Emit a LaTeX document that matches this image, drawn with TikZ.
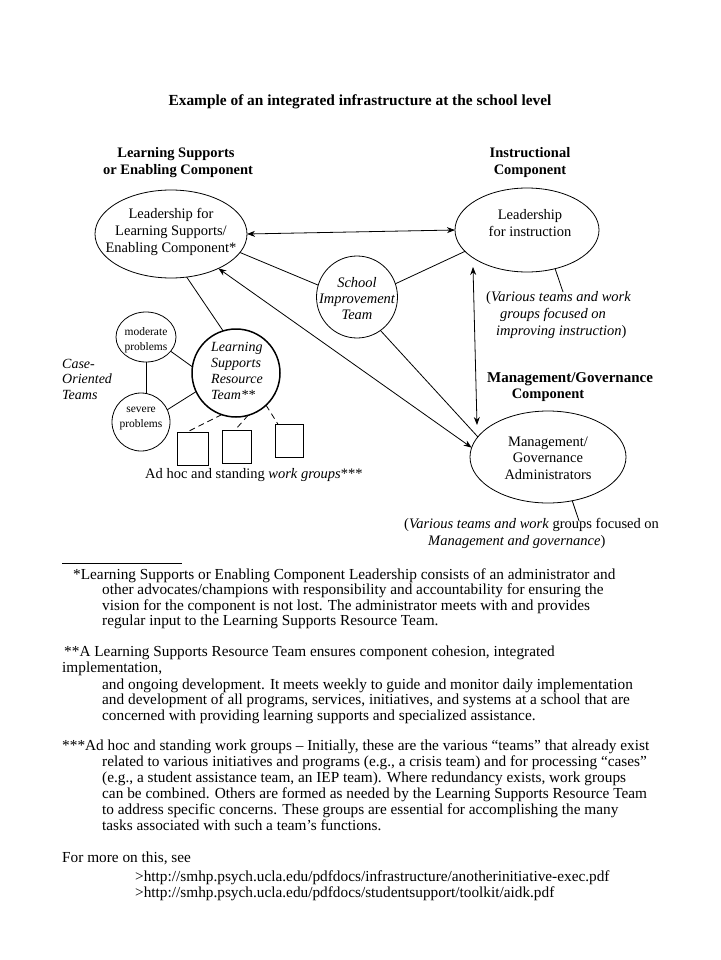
\documentclass[tikz,border=0pt]{standalone}
\usepackage{fontspec}
\setmainfont{Liberation Serif}
\usetikzlibrary{shapes.geometric,arrows.meta}
\begin{document}
\begin{tikzpicture}[x=1pt,y=-1pt,
  ell/.style={draw, ellipse, inner sep=0pt, outer sep=0pt, line width=0.8pt},
  boxn/.style={draw, rectangle, inner sep=0pt, outer sep=0pt, line width=0.8pt},
  lbl/.style={inner sep=0pt, font=\fontsize{14.5}{17}\selectfont, align=center},
  small/.style={inner sep=0pt, font=\fontsize{11.5}{15}\selectfont, align=center},
  hd/.style={inner sep=0pt, anchor=base, font=\fontsize{14.5}{17}\selectfont\bfseries},
  ln/.style={inner sep=0pt, anchor=base west, font=\fontsize{15.3}{16}\selectfont},
  dl/.style={inner sep=0pt, anchor=base west, font=\fontsize{14.5}{16}\selectfont},
  conn/.style={line width=0.8pt},
  tip/.tip={Stealth[length=8pt,width=6pt]},
  arr/.style={conn, tip-tip},
  dsh/.style={conn, dash pattern=on 6pt off 4pt}
]
\useasboundingbox (0,0) rectangle (720,960);

% title and headings
\node[hd, font=\fontsize{15.4}{17}\selectfont\bfseries] (title) at (360,106) {Example of an integrated infrastructure at the school level};
\node[hd] (h1a) at (176,158) {Learning Supports};
\node[hd] (h1b) at (178,175) {or Enabling Component};
\node[hd] (h2a) at (530,158) {Instructional};
\node[hd] (h2b) at (530,175) {Component};
\node[hd, font=\fontsize{15}{17}\selectfont\bfseries] (h3a) at (570,382) {Management/Governance};
\node[hd] (h3b) at (548,398) {Component};

% main ellipses
\node[ell, minimum width=152pt, minimum height=88pt] (L1) at (171,234) {};
\node[lbl] (L1t) at (171,232) {Leadership for\\Learning Supports/\\Enabling Component*};
\node[ell, minimum width=144pt, minimum height=84pt] (I1) at (527,230) {};
\node[lbl] (I1t) at (530,223) {Leadership\\for instruction};
\node[ell, minimum width=156pt, minimum height=92pt] (M1) at (548,457) {};
\node[lbl, font=\fontsize{14.5}{16.5}\selectfont] (M1t) at (548,458) {Management/\\Governance\\Administrators};

% school improvement team
\node[ell, minimum width=81pt, minimum height=82pt] (SIT) at (357,297) {};
\node[lbl, font=\fontsize{14.5}{16}\selectfont\itshape] (SITt) at (357,299) {School\\Improvement\\Team};

% resource team
\node[ell, line width=1.5pt, minimum width=88pt, minimum height=88pt] (RT) at (236,373) {};
\node[lbl, font=\fontsize{14}{16}\selectfont\itshape, align=left, anchor=west] (RTt) at (211,371) {Learning\\Supports\\Resource\\Team**};

% case-oriented teams
\node[ell, minimum width=60pt, minimum height=50pt] (mod) at (146,337) {};
\node[small] (modt) at (146,340) {moderate\\problems};
\node[ell, minimum width=58pt, minimum height=58pt] (sev) at (141,422) {};
\node[small] (sevt) at (141,419) {severe\\problems};
\node[lbl, font=\fontsize{14}{15.5}\selectfont\itshape, align=left, anchor=west] (case) at (62,379) {Case-\\Oriented\\Teams};

% work group boxes
\node[boxn, minimum width=31pt, minimum height=33pt] (b1) at (192.5,448.5) {};
\node[boxn, minimum width=29pt, minimum height=33pt] (b2) at (236.5,446.5) {};
\node[boxn, minimum width=28pt, minimum height=33pt] (b3) at (289,440.5) {};
\node[dl] (wg) at (145,478) {Ad hoc and standing \textit{work groups}***};

% side notes
\node[dl] (v1) at (486,301) {(\textit{Various teams and work}};
\node[dl] (v2) at (500,318) {\textit{groups focused on}};
\node[dl] (v3) at (496,335) {\textit{improving instruction})};
\coordinate (v1c) at (563,292);
\node[dl] (w1) at (404,528) {(\textit{Various teams and work} groups focused on};
\node[dl] (w2) at (428,545) {\textit{Management and governance})};
\coordinate (w1c) at (579,521);

% connectors
\draw[arr] (L1.east) -- (I1.west);
\draw[conn] (L1.-15.5) -- (SIT.163);
\draw[conn] (SIT.19) -- (I1.-161.3);
\draw[conn] (SIT.-55) -- (M1.164.3);
\draw[arr] (L1.-36) -- (M1.173.2);
\coordinate (va1) at (473,267);
\coordinate (va2) at (477,425);
\draw[arr] (va1) -- (va2);
\draw[conn] (I1.-54.3) -- (v1c);
\draw[conn] (M1.-61.4) -- (w1c);
\draw[conn] (L1.-70) -- (RT.107);
\draw[conn] (mod.-30) -- (RT.172);
\draw[conn] (sev.25.8) -- (RT.205);
\draw[conn] (mod.south) -- (mod.south |- sev.north);
\draw[dsh] (RT.251) -- (b1.108);
\draw[dsh] (RT.-74.6) -- (b2.95);
\draw[dsh] (RT.-47.6) -- (b3.124);

% footnotes
\draw[line width=0.8pt] (62,563) -- (182,563);
\node[ln] (f1) at (73,579) {*Learning Supports or Enabling Component Leadership consists of an administrator and};
\node[ln] (f2) at (102,594.5) {other advocates/champions with responsibility and accountability for ensuring the};
\node[ln] (f3) at (102,610) {vision for the component is not lost. The administrator meets with and provides};
\node[ln] (f4) at (102,625.5) {regular input to the Learning Supports Resource Team.};

\node[ln] (g1) at (64,656) {**A Learning Supports Resource Team ensures component cohesion, integrated};
\node[ln] (g2) at (62,672) {implementation,};
\node[ln] (g3) at (102,689) {and ongoing development. It meets weekly to guide and monitor daily implementation};
\node[ln] (g4) at (102,704.5) {and development of all programs, services, initiatives, and systems at a school that are};
\node[ln] (g5) at (102,720) {concerned with providing learning supports and specialized assistance.};

\node[ln] (k1) at (62,750) {***Ad hoc and standing work groups – Initially, these are the various “teams” that already exist};
\node[ln] (k2) at (102,766) {related to various initiatives and programs (e.g., a crisis team) and for processing “cases”};
\node[ln] (k3) at (102,782) {(e.g., a student assistance team, an IEP team). Where redundancy exists, work groups};
\node[ln] (k4) at (102,798) {can be combined. Others are formed as needed by the Learning Supports Resource Team};
\node[ln] (k5) at (102,814) {to address specific concerns. These groups are essential for accomplishing the many};
\node[ln] (k6) at (102,830) {tasks associated with such a team’s functions.};

\node[ln] (m1) at (62,862) {For more on this, see};
\node[ln] (m2) at (135,881) {>http://smhp.psych.ucla.edu/pdfdocs/infrastructure/anotherinitiative-exec.pdf};
\node[ln] (m3) at (135,897) {>http://smhp.psych.ucla.edu/pdfdocs/studentsupport/toolkit/aidk.pdf};
\end{tikzpicture}
\end{document}
